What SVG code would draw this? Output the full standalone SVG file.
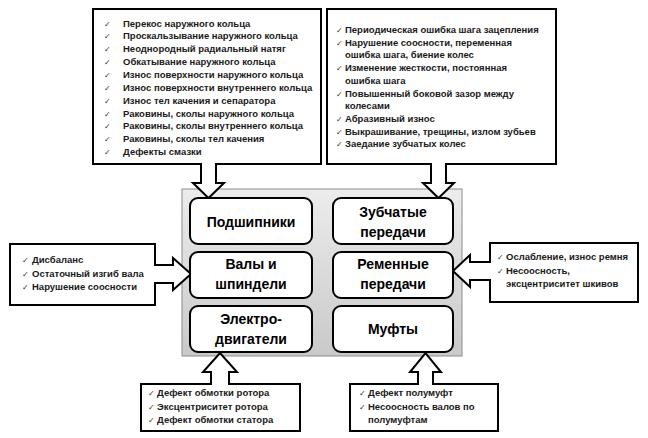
<svg xmlns="http://www.w3.org/2000/svg" width="648" height="438" viewBox="0 0 648 438">
<defs>
<linearGradient id="gbg" x1="0" y1="0" x2="0" y2="1">
<stop offset="0" stop-color="#ececec"/>
<stop offset="1" stop-color="#c9c9c9"/>
</linearGradient>
<style>
.co{fill:#fff;stroke:#000;stroke-width:2;stroke-linejoin:miter}
.nd{fill:#fff;stroke:#000;stroke-width:2}
.t{font-family:"Liberation Sans",Arial,sans-serif;font-weight:bold;font-size:9.5px;fill:#1a1a1a}
.ck{font-family:"DejaVu Sans",sans-serif;font-size:8px;fill:#333}
.nt{font-family:"Liberation Sans",Arial,sans-serif;font-weight:bold;font-size:14px;fill:#000;text-anchor:middle}
</style>
</defs>
<rect width="648" height="438" fill="#fff"/>
<g id="container">
<rect x="182" y="189" width="280" height="167" fill="url(#gbg)" stroke="#8c8c8c" stroke-width="1"/>
</g>
<g id="connectors">
<path class="co" d="M93,9 H321 V164 H216 V183 H224 L208.5,198 L193,183 H201 V164 H93 Z"/>
<path class="co" d="M327,9 H556 V164 H446 V183 H454 L438.5,198 L423,183 H431 V164 H327 Z"/>
<path class="co" d="M10,244 H155 V265 H173 V258 L191,274 L173,290 V283 H155 V305 H10 Z"/>
<path class="co" d="M638,243 H490 V262 H470 V255 L453,271 L470,287 V280 H490 V302 H638 Z"/>
<path class="co" d="M141,431 V384 H211 V372 H203 L220,353 L237,372 H229 V384 H300 V431 Z"/>
<path class="co" d="M350,431 V384 H418 V372 H410 L425.5,353 L441,372 H433 V384 H498 V431 Z"/>
</g>
<g id="list-bearings">
<g class="ck"><text x="104" y="26.5">✓</text><text x="104" y="39.4">✓</text><text x="104" y="52.2">✓</text><text x="104" y="65.1">✓</text><text x="104" y="77.9">✓</text><text x="104" y="90.8">✓</text><text x="104" y="103.6">✓</text><text x="104" y="116.5">✓</text><text x="104" y="129.3">✓</text><text x="104" y="142.2">✓</text><text x="104" y="155">✓</text></g>
<g class="t">
<text x="123" y="26.5">Перекос наружного кольца</text>
<text x="123" y="39.4">Проскальзывание наружного кольца</text>
<text x="123" y="52.2">Неоднородный радиальный натяг</text>
<text x="123" y="65.1">Обкатывание наружного кольца</text>
<text x="123" y="77.9">Износ поверхности наружного кольца</text>
<text x="123" y="90.8">Износ поверхности внутреннего кольца</text>
<text x="123" y="103.6">Износ тел качения и сепаратора</text>
<text x="123" y="116.5">Раковины, сколы наружного кольца</text>
<text x="123" y="129.3">Раковины, сколы внутреннего кольца</text>
<text x="123" y="142.2">Раковины, сколы тел качения</text>
<text x="123" y="155">Дефекты смазки</text>
</g>
</g>
<g id="list-gears">
<g class="ck"><text x="336" y="33">✓</text><text x="336" y="45.7">✓</text><text x="336" y="71.1">✓</text><text x="336" y="96.5">✓</text><text x="336" y="121.9">✓</text><text x="336" y="134.6">✓</text><text x="336" y="147.3">✓</text></g>
<g class="t">
<text x="345" y="33">Периодическая ошибка шага зацепления</text>
<text x="345" y="45.7">Нарушение соосности, переменная</text>
<text x="345" y="58.4">ошибка шага, биение колес</text>
<text x="345" y="71.1">Изменение жесткости, постоянная</text>
<text x="345" y="83.8">ошибка шага</text>
<text x="345" y="96.5">Повышенный боковой зазор между</text>
<text x="345" y="109.2">колесами</text>
<text x="345" y="121.9">Абразивный износ</text>
<text x="345" y="134.6">Выкрашивание, трещины, излом зубьев</text>
<text x="345" y="147.3">Заедание зубчатых колес</text>
</g>
</g>
<g id="list-shafts">
<g class="ck"><text x="22" y="263">✓</text><text x="22" y="276.5">✓</text><text x="22" y="290">✓</text></g>
<g class="t">
<text x="32" y="263">Дисбаланс</text>
<text x="32" y="276.5">Остаточный изгиб вала</text>
<text x="32" y="290">Нарушение соосности</text>
</g>
</g>
<g id="list-belts">
<g class="ck"><text x="497" y="260">✓</text><text x="497" y="273.5">✓</text></g>
<g class="t">
<text x="506" y="260">Ослабление, износ ремня</text>
<text x="506" y="273.5">Несоосность,</text>
<text x="506" y="287">эксцентриситет шкивов</text>
</g>
</g>
<g id="list-motors">
<g class="ck"><text x="148" y="396">✓</text><text x="148" y="409.5">✓</text><text x="148" y="423">✓</text></g>
<g class="t">
<text x="157" y="396">Дефект обмотки ротора</text>
<text x="157" y="409.5">Эксцентриситет ротора</text>
<text x="157" y="423">Дефект обмотки статора</text>
</g>
</g>
<g id="list-couplings">
<g class="ck"><text x="359" y="396">✓</text><text x="359" y="409.5">✓</text></g>
<g class="t">
<text x="368" y="396">Дефект полумуфт</text>
<text x="368" y="409.5">Несоосность валов по</text>
<text x="368" y="423">полумуфтам</text>
</g>
</g>
<g id="node-bearings"><rect class="nd" x="190" y="198" width="122" height="46" rx="8"/><text class="nt" x="251" y="226.5">Подшипники</text></g>
<g id="node-gears"><rect class="nd" x="333" y="198" width="120" height="46" rx="8"/><text class="nt" x="393" y="217">Зубчатые</text><text class="nt" x="393" y="236.5">передачи</text></g>
<g id="node-shafts"><rect class="nd" x="190" y="252" width="122" height="46" rx="8"/><text class="nt" x="251" y="269">Валы и</text><text class="nt" x="251" y="288.5">шпиндели</text></g>
<g id="node-belts"><rect class="nd" x="333" y="252" width="120" height="46" rx="8"/><text class="nt" x="393" y="268.5">Ременные</text><text class="nt" x="393" y="288.5">передачи</text></g>
<g id="node-motors"><rect class="nd" x="190" y="306" width="122" height="46" rx="8"/><text class="nt" x="251" y="323.5">Электро-</text><text class="nt" x="251" y="343.5">двигатели</text></g>
<g id="node-couplings"><rect class="nd" x="333" y="306" width="120" height="46" rx="8"/><text class="nt" x="393" y="333.5">Муфты</text></g>
</svg>
